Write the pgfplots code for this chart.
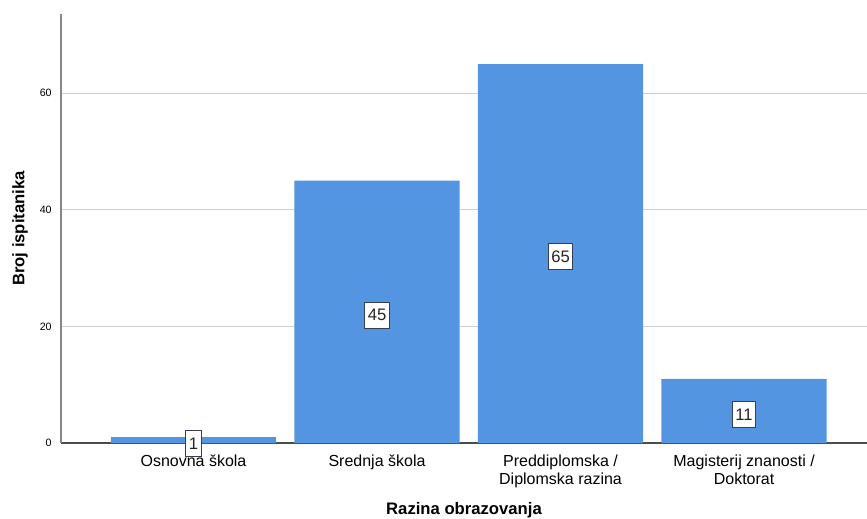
\documentclass[border=0pt]{standalone}
\usepackage{fontspec}
\setmainfont{Liberation Sans}
\usepackage{pgfplots}
\pgfplotsset{compat=1.18}
\definecolor{barblue}{RGB}{84,149,226}
\definecolor{gridgray}{RGB}{208,208,208}
\definecolor{axisgray}{RGB}{135,135,135}
\definecolor{boxline}{RGB}{55,62,78}
\begin{document}
\begin{tikzpicture}
\begin{axis}[
  name=ax,
  scale only axis,
  width=604.5pt, height=321.75pt,
  ybar, bar width=0.9,
  xmin=-0.722, xmax=3.670,
  ymin=0, ymax=73.6,
  xtick={0,1,2,3},
  xticklabels={Osnovna škola, Srednja škola, {Preddiplomska /\\Diplomska razina}, {Magisterij znanosti /\\Doktorat}},
  ytick={0,20,40,60},
  major tick length=0,
  ymajorgrids,
  grid style={gridgray, line width=0.8pt},
  axis x line*=bottom, axis y line*=left,
  x axis line style={black!70, line width=0.8pt},
  y axis line style={axisgray, line width=0.9pt},
  /pgf/number format/assume math mode=true,
  yticklabel style={font=\fontsize{8}{9}\selectfont, xshift=-3.5pt},
  xticklabel style={font=\fontsize{12}{13.5}\selectfont, align=center, yshift=-5.5pt},
  xlabel={Razina obrazovanja},
  ylabel={Broj ispitanika},
  xlabel style={font=\fontsize{12.5}{14}\selectfont\bfseries, at={(axis description cs:0.5,-0.1655)}, anchor=base},
  ylabel style={font=\fontsize{12.5}{14}\selectfont\bfseries, at={(axis description cs:-0.0509,0.5)}, anchor=center},
  nodes near coords,
  visualization depends on={y \as \rawy},
  every node near coord/.append style={
    shift={(axis direction cs:0,-\rawy/2)}, yshift=-2.5pt,
    anchor=center, fill=white, draw=boxline, line width=0.7pt,
    inner xsep=2.3pt, inner ysep=0pt, minimum height=19.5pt,
    font=\fontsize{12.5}{13}\selectfont, text=black!85},
]
\addplot[fill=barblue, draw=none] coordinates {(0,1) (1,45) (2,65) (3,11)};
\end{axis}
\pgfresetboundingbox
\path[use as bounding box] ([xshift=-45.75pt,yshift=-56.25pt]ax.south west) rectangle ([yshift=10.5pt]ax.north east);
\end{tikzpicture}
\end{document}
